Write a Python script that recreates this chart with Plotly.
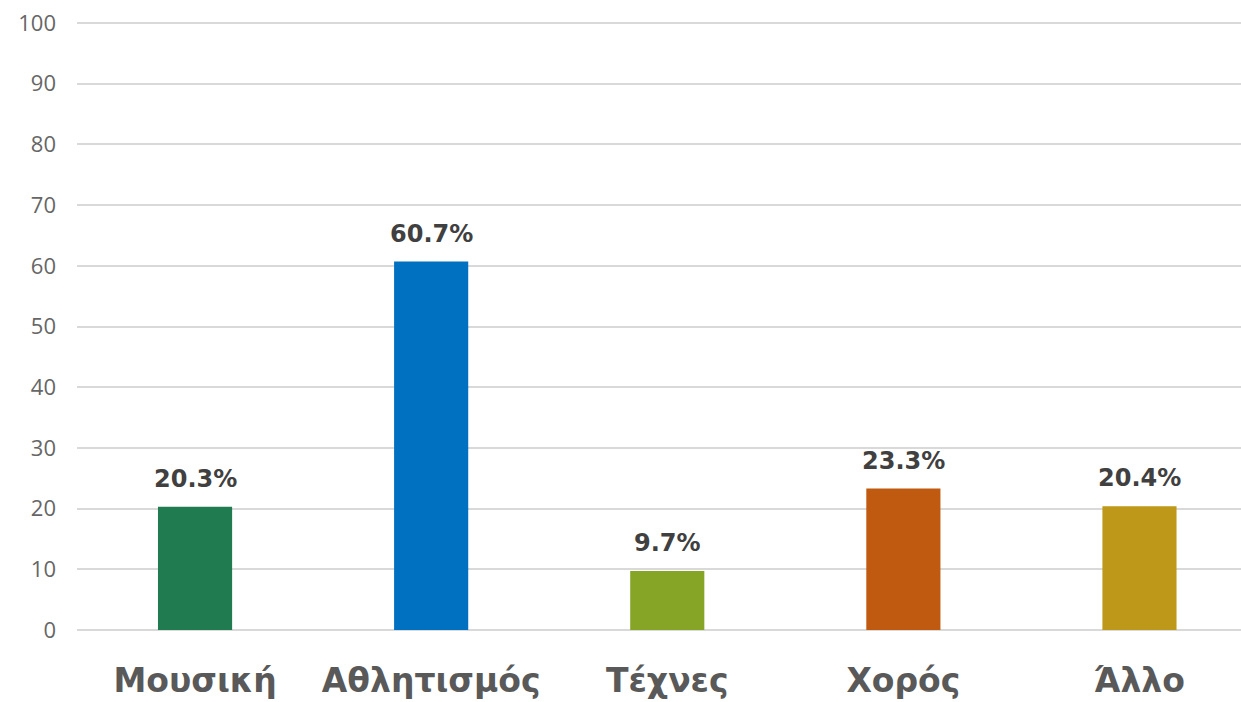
import plotly.graph_objects as go

categories = ["Μουσική", "Αθλητισμός", "Τέχνες", "Χορός", "Άλλο"]
values = [20.3, 60.7, 9.7, 23.3, 20.4]
bar_colors = ["#217B51", "#0070C0", "#86A527", "#C05A11", "#BE9819"]
y_ticks = [0, 10, 20, 30, 40, 50, 60, 70, 80, 90, 100]

fig = go.Figure(go.Bar(
    x=categories, y=values,
    marker=dict(color=bar_colors, line=dict(width=0)),
    width=0.314,
    hoverinfo="x+y",
))

# value labels above each bar
for c, v in zip(categories, values):
    fig.add_annotation(
        x=c, y=v, text=f"<b>{v:.1f}%</b>", showarrow=False,
        yanchor="bottom", yshift=12,
        font=dict(family="DejaVu Sans", size=24, color="#404040"),
    )

fig.update_layout(
    width=1241, height=702,
    margin=dict(l=77, r=0, t=20, b=72, autoexpand=False),
    plot_bgcolor="white", paper_bgcolor="white",
    showlegend=False,
)
fig.update_xaxes(
    range=[-0.5, 4.43], automargin=False,
    showgrid=False, showline=False, zeroline=False,
    tickfont=dict(family="DejaVu Sans", size=33, color="#595959", weight="bold"),
    ticklabelstandoff=28,
)
fig.update_yaxes(
    range=[0, 100.5], tickvals=y_ticks, automargin=False,
    showgrid=True, gridcolor="#D9D9D9", gridwidth=2,
    zeroline=True, zerolinecolor="#D9D9D9", zerolinewidth=2,
    showline=False,
    tickfont=dict(family="Open Sans", size=22, color="#666666"),
    ticklabelstandoff=20,
)

# drop the default page margin so the figure sits flush in the window
fig.write_html(
    "out.html",
    config={"displayModeBar": False},
    post_script="document.body.style.margin='0';document.body.style.overflow='hidden';",
)
